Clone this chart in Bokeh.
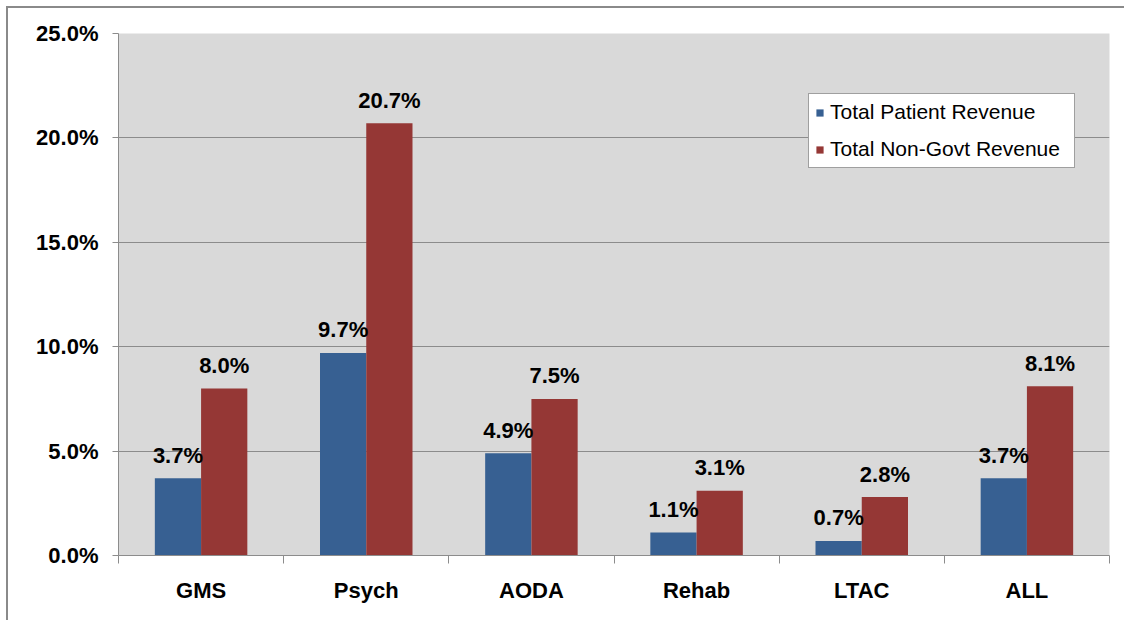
from bokeh.plotting import figure
from bokeh.models import (ColumnDataSource, Range1d, FixedTicker, PrintfTickFormatter,
                          Legend, LegendItem)
from bokeh.transform import dodge
from bokeh.core.properties import value
from bokeh.embed import file_html
from bokeh.resources import INLINE

categories = ["GMS", "Psych", "AODA", "Rehab", "LTAC", "ALL"]
total_patient_revenue = [3.7, 9.7, 4.9, 1.1, 0.7, 3.7]
total_non_govt_revenue = [8.0, 20.7, 7.5, 3.1, 2.8, 8.1]
y_ticks = [0, 5, 10, 15, 20, 25]

BLUE = "#376092"
RED = "#953735"
GRID = "#8c8c8c"
FONT = "Liberation Sans"

src = ColumnDataSource(dict(
    x=list(range(len(categories))),
    tpr=total_patient_revenue,
    ngr=total_non_govt_revenue,
    tpr_lbl=[f"{v:.1f}%" for v in total_patient_revenue],
    ngr_lbl=[f"{v:.1f}%" for v in total_non_govt_revenue],
))

p = figure(width=1118, height=614, output_backend="svg", toolbar_location=None,
           x_range=Range1d(-0.5, len(categories) - 0.5), y_range=Range1d(0, 25),
           min_border_left=110, min_border_top=25, min_border_right=17, min_border_bottom=67)
p.styles = {"border-left": "2px solid #8a8a8a", "border-top": "2px solid #8a8a8a",
            "margin-left": "6px", "margin-top": "6px"}
p.background_fill_color = "#d9d9d9"
p.border_fill_color = "white"
p.outline_line_color = None

bw = 0.28
r1 = p.vbar(x=dodge("x", -bw / 2, range=p.x_range), top="tpr", width=bw, source=src,
            fill_color=BLUE, line_color=None)
r2 = p.vbar(x=dodge("x", bw / 2, range=p.x_range), top="ngr", width=bw, source=src,
            fill_color=RED, line_color=None)

for col, lbl, off in (("tpr", "tpr_lbl", -bw / 2), ("ngr", "ngr_lbl", bw / 2)):
    p.text(x=dodge("x", off, range=p.x_range), y=col, text=lbl, source=src,
           text_align="center", text_baseline="alphabetic", y_offset=-23,
           text_font=value(FONT), text_font_style="bold", text_font_size="22px",
           text_color="black")

# axes
xa = p.xaxis[0]
xa.ticker = FixedTicker(ticks=list(range(len(categories))),
                        minor_ticks=[i - 0.5 for i in range(len(categories) + 1)])
xa.major_label_overrides = {i: c for i, c in enumerate(categories)}
xa.major_tick_out = 0
xa.major_tick_in = 0
xa.minor_tick_out = 8
xa.minor_tick_in = 0
xa.minor_tick_line_color = GRID
xa.axis_line_color = GRID
xa.major_label_standoff = 14
xa.major_label_text_font = FONT
xa.major_label_text_font_style = "bold"
xa.major_label_text_font_size = "22px"
xa.major_label_text_color = "black"

ya = p.yaxis[0]
ya.ticker = FixedTicker(ticks=y_ticks)
ya.formatter = PrintfTickFormatter(format="%.1f%%")
ya.major_tick_out = 6
ya.major_tick_in = 0
ya.minor_tick_line_color = None
ya.major_tick_line_color = GRID
ya.axis_line_color = GRID
ya.major_label_standoff = 14
ya.major_label_text_font = FONT
ya.major_label_text_font_style = "bold"
ya.major_label_text_font_size = "22px"
ya.major_label_text_color = "black"

p.xgrid.grid_line_color = None
p.ygrid.grid_line_color = GRID
p.ygrid.grid_line_width = 1

legend = Legend(items=[LegendItem(label="Total Patient Revenue", renderers=[r1]),
                       LegendItem(label="Total Non-Govt Revenue", renderers=[r2])],
                location=(690, 387), glyph_width=9, glyph_height=9,
                label_text_font=FONT, label_text_font_size="21px", label_text_color="black",
                label_height=22, label_width=238, label_standoff=6, spacing=13, padding=6,
                border_line_color="#404040", border_line_width=1,
                background_fill_color="white", background_fill_alpha=1.0, margin=0)
p.add_layout(legend)

open("out.html", "w").write(file_html(p, INLINE))
